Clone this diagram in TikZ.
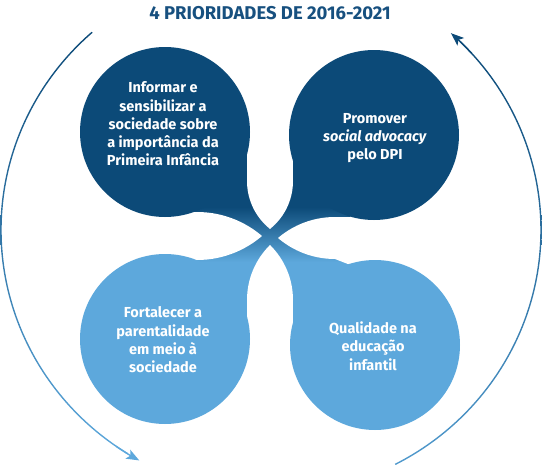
\documentclass[tikz,border=0pt]{standalone}
\usepackage{fontspec}
\setmainfont{Fira Sans}
\usetikzlibrary{arrows.meta}
\definecolor{dkBlue}{HTML}{0C4A78}
\definecolor{ltBlue}{HTML}{5DA8DC}
\definecolor{ttlBlue}{HTML}{17507F}

\begin{document}
\begin{tikzpicture}[x=1pt, y=1pt, >=Stealth,
      bubble/.style={circle, minimum size=170pt, inner sep=0pt, draw=none},
      blurb/.style={align=center, text=white, inner sep=0pt, font=\fontsize{14.5}{18.3}\selectfont\bfseries},
      heading/.style={anchor=base, text=ttlBlue, inner sep=0pt, font=\fontsize{18.5}{22}\selectfont\bfseries},
      cycle arrow/.style={-{Stealth[length=13pt, width=10pt, inset=3pt]}, line width=1.4pt}]
  \useasboundingbox (0,0) rectangle (542,-466);
  % tails meeting in the middle
  \fill[dkBlue] (165,-132) rectangle (350,-207);
  \shade[top color=dkBlue, bottom color=ltBlue] (165,-207) rectangle (350,-262);
  \fill[ltBlue] (165,-262) rectangle (350,-346);
  % white gaps between the bubbles
  \begin{scope} \clip (231.4,-181) circle (61.6); \fill[white] (308.6,-181) circle (61.6); \end{scope}
  \fill[white] (247,-100) rectangle (293,-181);
  \begin{scope} \clip (215.7,-300) circle (77.3); \fill[white] (324.3,-300) circle (77.3); \end{scope}
  \fill[white] (247,-300) rectangle (293,-390);
  \begin{scope} \clip (197,-160) circle (100); \fill[white] (197,-312) circle (100); \end{scope}
  \fill[white] (130,-212) rectangle (197,-260);
  \begin{scope} \clip (335,-171.1) circle (87.9); \fill[white] (335,-304.9) circle (87.9); \end{scope}
  \fill[white] (335,-217) rectangle (410,-259);
  \fill[white] (335,-259) -- (353,-259) -- (353,-266) -- cycle;
  % bubbles
  \node[bubble, fill=dkBlue] (inform) at (165,-132) {};
  \node[bubble, fill=dkBlue] (promote) at (374,-135) {};
  \node[bubble, fill=ltBlue] (parent) at (165,-339) {};
  \node[bubble, fill=ltBlue] (quality) at (375,-345) {};
  % texts
  \node[heading] (title) at (270,-19) {4 PRIORIDADES DE 2016-2021};
  \node[blurb] (informtxt) at ([shift={(-2,8)}]inform.center)
    {Informar e\\sensibilizar a\\sociedade sobre\\a importância da\\Primeira Infância};
  \node[blurb] (promotetxt) at ([shift={(1,-3)}]promote.center)
    {Promover\\\textit{social advocacy}\\pelo DPI};
  \node[blurb] (parenttxt) at ([shift={(-2,-1)}]parent.center)
    {Fortalecer a\\parentalidade\\em meio à\\sociedade};
  \node[blurb] (qualitytxt) at ([shift={(-2,-1)}]quality.center)
    {Qualidade na\\educação\\infantil};
  % cycle arrows
  \shade[top color=dkBlue, bottom color=ltBlue] (271,-230) ++(131.5:270.7 and 264.7)
    arc[start angle=131.5, end angle=238, x radius=270.7, y radius=264.7] -- ++(238:-1.4)
    arc[start angle=238, end angle=131.5, x radius=269.3, y radius=263.3] -- cycle;
  \draw[cycle arrow, ltBlue] (271,-230) ++(235:270 and 264)
    arc[start angle=235, end angle=240.8, x radius=270, y radius=264];
  \shade[top color=dkBlue, bottom color=ltBlue!85!dkBlue] (271,-230) ++(-62.6:270.7 and 264.7)
    arc[start angle=-62.6, end angle=45.5, x radius=270.7, y radius=264.7] -- ++(45.5:-1.4)
    arc[start angle=45.5, end angle=-62.6, x radius=269.3, y radius=263.3] -- cycle;
  \draw[cycle arrow, dkBlue] (271,-230) ++(42:270 and 264)
    arc[start angle=42, end angle=48.2, x radius=270, y radius=264];
\end{tikzpicture}
\end{document}
